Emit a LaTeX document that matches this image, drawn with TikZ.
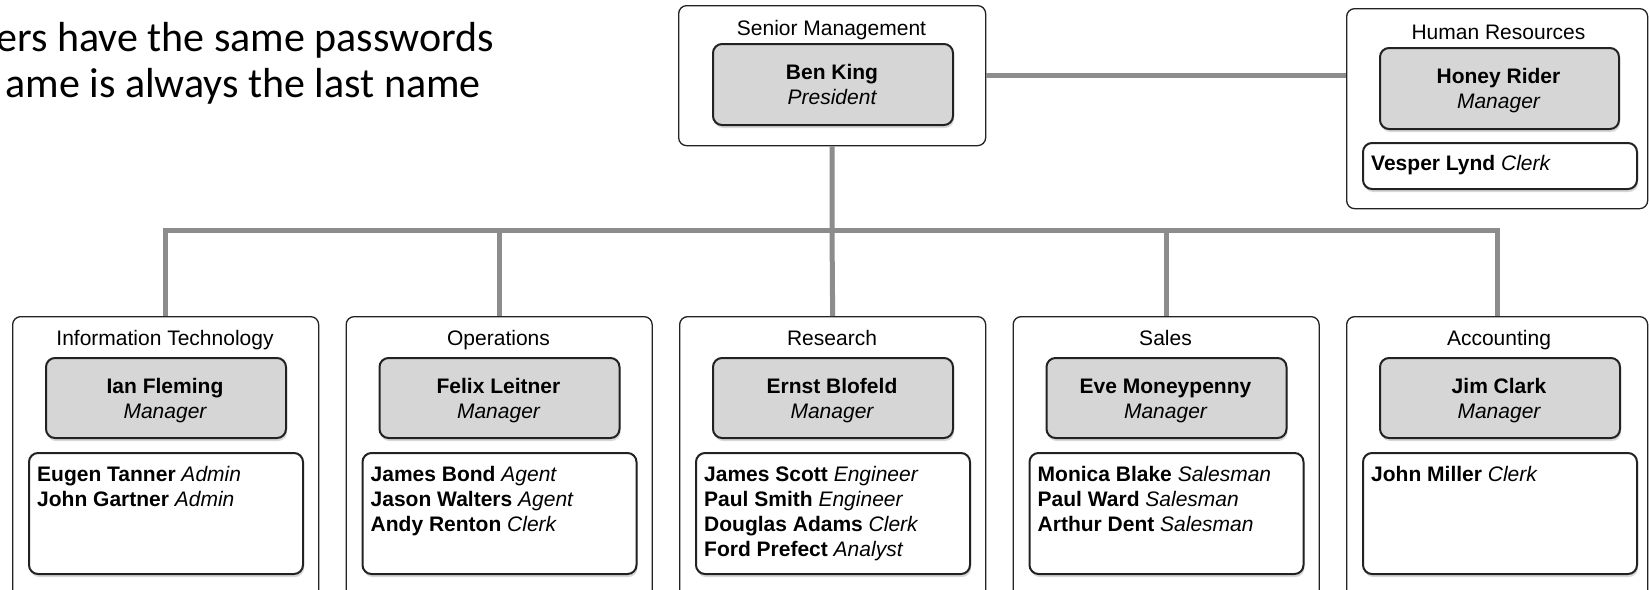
\documentclass[tikz,border=0pt]{standalone}
\usepackage{fontspec}
\setmainfont{Liberation Sans}
\newfontfamily\calib{Carlito}
\usetikzlibrary{shadows}
\definecolor{mgrgray}{HTML}{D6D6D6}
\definecolor{conngray}{HTML}{8C8C8C}
\definecolor{edgecol}{HTML}{222222}
\tikzset{
  outerbox/.style={draw=edgecol, line width=1.3pt, rounded corners=8pt, fill=white, inner sep=0pt, anchor=north west},
  mgrbox/.style={draw=edgecol, line width=2pt, rounded corners=9pt, fill=mgrgray, inner sep=0pt, anchor=north west,
    drop shadow={shadow xshift=1pt, shadow yshift=-3pt, opacity=0.3}},
  staffbox/.style={mgrbox, fill=white},
  conn/.style={draw=conngray, line width=5pt},
  lbl/.style={font=\fontsize{21}{25}\selectfont, inner sep=0pt, anchor=base},
  stafftxt/.style={lbl, anchor=base west},
  note/.style={font=\calib\fontsize{42}{50}\selectfont, inner sep=0pt, anchor=base east},
}
\newcommand\deptcol[5]{%
  \pgfmathsetmacro\dcL{#2-153}%
  \pgfmathsetmacro\dcR{min(#2+153,1647)}%
  \pgfmathsetmacro\dcW{\dcR-\dcL}%
  \node[outerbox, minimum width=\dcW pt, minimum height=300pt] (#1) at (\dcL,316) {};
  \node[lbl] (#1-t) at (#2,345.5) {#3};
  \node[mgrbox, minimum width=240pt, minimum height=80pt] (#1-m) at (#2-120,357) {};
  \node[lbl] (#1-mn) at (#2,393) {\bfseries #4};
  \node[lbl] (#1-mr) at (#2,418) {\itshape Manager};
  \node[staffbox, minimum width=274pt, minimum height=121pt] (#1-s) at (#2-137,452) {};
  \foreach \s [count=\i] in {#5} {\node[stafftxt] (#1-s\i) at (#2-128,456.5+25*\i) {\s};}
}
\begin{document}
\begin{tikzpicture}[x=1pt,y=-1pt]
\useasboundingbox (0,0) rectangle (1649,589);
\clip (0,0) rectangle (1649,589);

% notes (cut off on the left)
\node[note] (n1) at (494,51) {ers have the same passwords};
\node[note] (n2) at (481,97) {ame is always the last name};

% senior management
\node[outerbox, minimum width=307pt, minimum height=140pt] (sen) at (678,5) {};
\node[lbl] (sen-t) at (831.5,35) {Senior Management};
\node[mgrbox, minimum width=240pt, minimum height=81pt] (sen-m) at (712,43) {};
\node[lbl] (sen-mn) at (832,79) {\bfseries Ben King};
\node[lbl] (sen-mr) at (832,104) {\itshape President};

% human resources
\node[outerbox, minimum width=301pt, minimum height=200pt] (hr) at (1346,8) {};
\node[lbl] (hr-t) at (1498.5,39) {Human Resources};
\node[mgrbox, minimum width=239pt, minimum height=81pt] (hr-m) at (1379,47) {};
\node[lbl] (hr-mn) at (1498.5,83) {\bfseries Honey Rider};
\node[lbl] (hr-mr) at (1498.5,108) {\itshape Manager};
\node[staffbox, minimum width=274pt, minimum height=46pt] (hr-s) at (1362,142) {};
\node[stafftxt] (hr-s1) at (1371,170) {\textbf{Vesper Lynd} \textit{Clerk}};

% departments
\deptcol{it}{165}{Information Technology}{Ian Fleming}{{\textbf{Eugen Tanner} \textit{Admin}},{\textbf{John Gartner} \textit{Admin}}}
\deptcol{ops}{498.5}{Operations}{Felix Leitner}{{\textbf{James Bond} \textit{Agent}},{\textbf{Jason Walters} \textit{Agent}},{\textbf{Andy Renton} \textit{Clerk}}}
\deptcol{res}{832}{Research}{Ernst Blofeld}{{\textbf{James Scott} \textit{Engineer}},{\textbf{Paul Smith} \textit{Engineer}},{\textbf{Douglas Adams} \textit{Clerk}},{\textbf{Ford Prefect} \textit{Analyst}}}
\deptcol{sal}{1165.5}{Sales}{Eve Moneypenny}{{\textbf{Monica Blake} \textit{Salesman}},{\textbf{Paul Ward} \textit{Salesman}},{\textbf{Arthur Dent} \textit{Salesman}}}
\deptcol{acc}{1499}{Accounting}{Jim Clark}{{\textbf{John Miller} \textit{Clerk}}}

% connectors
\coordinate (bus) at (832,230);
\draw[conn] (sen.south) -- (bus);
\draw[conn] (it.north) -- (it.north |- bus) -- (acc.north |- bus) -- (acc.north);
\draw[conn] (ops.north) -- (ops.north |- bus);
\draw[conn] (res.north) -- (bus);
\draw[conn] (sal.north) -- (sal.north |- bus);
\draw[conn] (sen.east) -- (sen.east -| hr.west);
\end{tikzpicture}
\end{document}
